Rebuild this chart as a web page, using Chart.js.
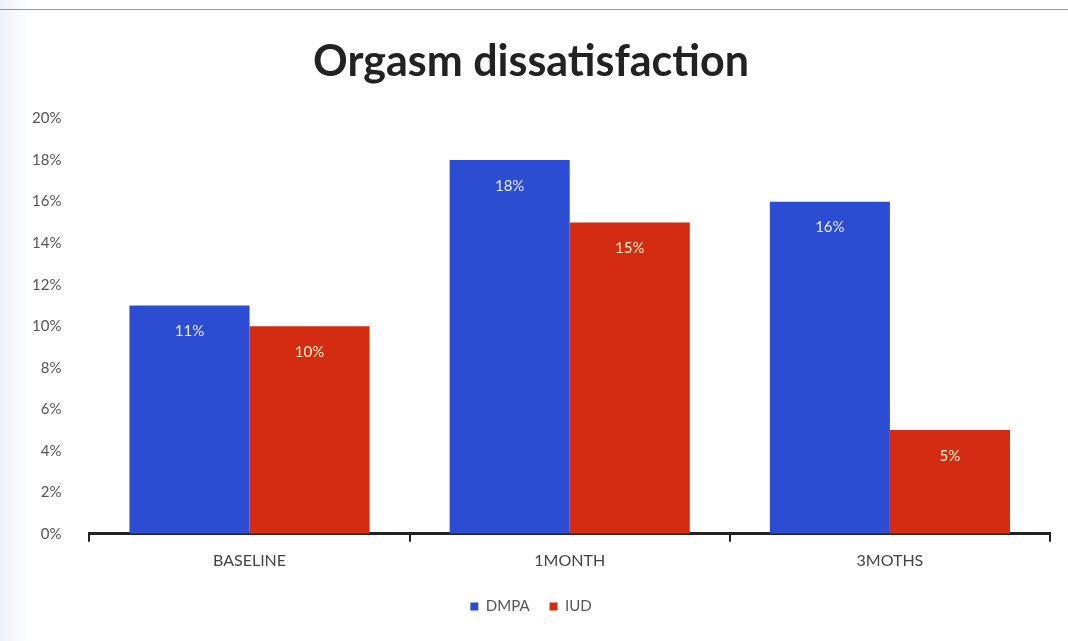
<!DOCTYPE html>
<html>
<head>
<meta charset="utf-8">
<script src="https://cdn.jsdelivr.net/npm/chart.js@4/dist/chart.umd.min.js"></script>
<style>
  html, body { margin: 0; padding: 0; background: #fff; }
  #wrap { position: relative; width: 1068px; height: 641px; background: linear-gradient(to right, #eef2fb 0px, #ffffff 30px); }
  #scan { position: absolute; left: 0; top: 9px; width: 1068px; height: 1px; background: #555; opacity: .6; }
</style>
</head>
<body>
<div id="wrap">
  <div id="scan"></div>
  <canvas id="orgasmChart" width="1068" height="641"></canvas>
</div>
<script>
// 기간별 카테고리
let categories = ["BASELINE", "1MONTH", "3MOTHS"];
let dmpaValues = [11, 18, 16];
let iudValues = [10, 15, 5];
let yTicks = [0, 2, 4, 6, 8, 10, 12, 14, 16, 18, 20];

// 막대 안쪽 값 표시
let valueLabels = {
    id: "valueLabels",
    afterDatasetsDraw: function(chart){
        let ctx = chart.ctx;
        ctx.save();
        ctx.font = "15px Lato";
        ctx.textAlign = "center";
        ctx.textBaseline = "middle";
        chart.data.datasets.forEach(function(ds, i){
            let meta = chart.getDatasetMeta(i);
            meta.data.forEach(function(bar, j){
                ctx.fillStyle = i == 0 ? "#e8ecff" : "#fff2c8";
                ctx.fillText(ds.data[j] + "%", bar.x, bar.y + 26);
            });
        });
        ctx.restore();
    }
};

let renderBarChart = function(component){
    let ctx = document.querySelector(component).getContext("2d");
    let myChart = new Chart(ctx, {
        type: "bar",
        data: {
            labels: categories,
            datasets: [{
                label: "DMPA",
                backgroundColor: "#2c4cd2",
                data: dmpaValues,
                categoryPercentage: 0.75,
                barPercentage: 1.0
            }, {
                label: "IUD",
                backgroundColor: "#d42c12",
                data: iudValues,
                categoryPercentage: 0.75,
                barPercentage: 1.0
            }]
        },
        options: {
            responsive: false,
            animation: false,
            layout: { padding: { left: 12, right: 18, top: 36, bottom: 17 } },
            plugins: {
                title: {
                    display: true,
                    text: "Orgasm dissatisfaction",
                    color: "#222",
                    font: { family: "Lato", size: 43, weight: "bold" },
                    padding: { top: 0, bottom: 31 }
                },
                legend: {
                    position: "bottom",
                    labels: {
                        color: "#555",
                        font: { family: "Lato", size: 15 },
                        boxWidth: 8,
                        boxHeight: 8,
                        padding: 20
                    }
                },
                tooltip: { enabled: false }
            },
            scales: {
                x: {
                    grid: { display: true, drawOnChartArea: false, offset: true, color: "#222", tickLength: 8, lineWidth: 2 },
                    border: { display: true, color: "#222", width: 3 },
                    ticks: { color: "#444", font: { family: "Lato", size: 16 }, padding: 9 }
                },
                y: {
                    min: 0,
                    max: 20,
                    afterBuildTicks: function(axis){
                        axis.ticks = yTicks.map(function(v){ return { value: v }; });
                    },
                    grid: { display: false },
                    border: { display: false },
                    ticks: {
                        color: "#555",
                        font: { family: "Lato", size: 15 },
                        padding: 20,
                        callback: function(v){ return v + "%"; }
                    }
                }
            }
        },
        plugins: [valueLabels]
    });
};

renderBarChart("#orgasmChart");
</script>
</body>
</html>
